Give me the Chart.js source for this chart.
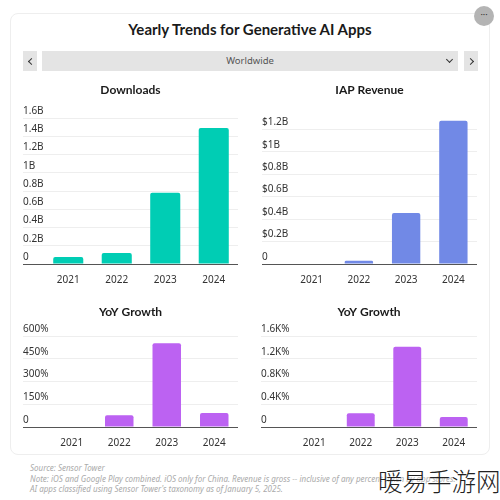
<!DOCTYPE html>
<html>
<head>
<meta charset="utf-8">
<script src="https://cdn.jsdelivr.net/npm/chart.js@4"></script>
<style>
  html, body { margin: 0; padding: 0; background: #fff; }
  body { width: 500px; height: 500px; position: relative; overflow: hidden; font-family: "Noto Sans", sans-serif; }
  .card { position: absolute; left: 10px; top: 13px; width: 478px; height: 440px; border: 1px solid #eeeeee; border-radius: 8px; }
  .title { position: absolute; left: 0; width: 500px; top: 20px; text-align: center; font-family: Lato, sans-serif; font-size: 15px; line-height: 18px; font-weight: 700; color: #1a1a1a; }
  .bar { position: absolute; top: 51px; height: 20px; background: #e4e4e4; }
  .region { font-size: 9.5px; line-height: 20px; text-align: center; color: #555; }
  .chev { position: absolute; width: 4px; height: 4px; border-right: 1px solid #333; border-bottom: 1px solid #333; }
  .menu { position: absolute; left: 474px; top: 6px; width: 20px; height: 20px; border-radius: 50%; background: #b4b4b4; color: #333; font-size: 9px; line-height: 17px; text-align: center; }
  canvas { position: absolute; }
  .foot { position: absolute; left: 30px; top: 463px; font-size: 8px; line-height: 10.5px; font-style: italic; color: #aaaaaa; white-space: nowrap; }
  .mark { position: absolute; left: 378px; top: 463px; font-family: "Noto Sans CJK SC"; font-weight: 300; font-size: 24.5px; line-height: 36px; color: #222; text-shadow: 0 0 3px #fff; white-space: nowrap; }
</style>
</head>
<body>
<div class="card"></div>
<div class="title">Yearly Trends for Generative AI Apps</div>
<div class="bar" style="left:23px;width:14px"><span class="chev" style="left:6px;top:8px;transform:rotate(135deg)"></span></div>
<div class="bar region" style="left:42px;width:416px">Worldwide<span class="chev" style="left:405px;top:6px;transform:rotate(45deg)"></span></div>
<div class="bar" style="left:464px;width:14px"><span class="chev" style="left:4px;top:8px;transform:rotate(-45deg)"></span></div>
<div class="menu">···</div>
<canvas id="downloads" style="left:23px;top:83px" width="215" height="201"></canvas>
<canvas id="revenue" style="left:262px;top:83px" width="215" height="201"></canvas>
<canvas id="downloadsGrowth" style="left:23px;top:305px" width="215" height="142"></canvas>
<canvas id="revenueGrowth" style="left:261px;top:305px" width="216" height="142"></canvas>
<div class="foot">Source: Sensor Tower<br>Note: iOS and Google Play combined. iOS only for China. Revenue is gross -- inclusive of any percent taken by app stores.<br>AI apps classified using Sensor Tower's taxonomy as of January 5, 2025.</div>
<div class="mark">暖易手游网</div>
<script>
const years = ["2021", "2022", "2023", "2024"];

const downloads = [0.077, 0.12, 0.78, 1.49];
const revenue = [0.005, 0.03, 0.455, 1.275];
const downloadsGrowth = [0, 77, 552, 92];
const revenueGrowth = [0, 0.24, 1.41, 0.176];

const downloadsTicks = ["0", "0.2B", "0.4B", "0.6B", "0.8B", "1B", "1.2B", "1.4B", "1.6B"];
const revenueTicks = ["0", "$0.2B", "$0.4B", "$0.6B", "$0.8B", "$1B", "$1.2B"];
const downloadsGrowthTicks = ["0", "150%", "300%", "450%", "600%"];
const revenueGrowthTicks = ["0", "0.4K%", "0.8K%", "1.2K%", "1.6K%"];

const GREEN = "#00cdb4";
const BLUE = "#7189e6";
const PURPLE = "#bc62f2";
const FONT = "'Noto Sans', sans-serif";

function buildBars(targetId, title, values, color, tickLabels, yMax, yStep, yWidth, barPct, titleGap) {
  const ctx = document.getElementById(targetId);
  return new Chart(ctx, {
    type: "bar",
    data: {
      labels: years,
      datasets: [{ data: values, backgroundColor: color, borderRadius: 2, barPercentage: barPct, categoryPercentage: 1 }]
    },
    options: {
      responsive: false,
      animation: false,
      layout: { padding: 0 },
      plugins: {
        legend: { display: false },
        tooltip: { enabled: false },
        title: {
          display: true,
          text: title,
          color: "#1a1a1a",
          font: { family: "Lato, sans-serif", size: 12, weight: "700", lineHeight: 1.2 },
          padding: { top: 0, bottom: titleGap }
        }
      },
      scales: {
        x: {
          border: { display: false },
          grid: { display: false },
          ticks: { color: "#333", font: { family: FONT, size: 10 }, padding: 2, maxRotation: 0 },
          afterFit: scale => { scale.height = 20; }
        },
        y: {
          min: 0,
          max: yMax,
          border: { display: false },
          grid: {
            color: c => c.tick.value === 0 ? "#555" : "#eeeeee",
            tickLength: yWidth
          },
          ticks: {
            stepSize: yStep,
            includeBounds: false,
            mirror: true,
            padding: -yWidth,
            labelOffset: -7,
            color: "#333",
            font: { family: FONT, size: 10 },
            autoSkip: false,
            callback: (v, i) => tickLabels[i]
          },
          afterFit: scale => { scale.width = yWidth; }
        }
      }
    }
  });
}

buildBars("downloads", "Downloads", downloads, GREEN, downloadsTicks, 1.6, 0.2, 21, 0.62, 20.6);
buildBars("revenue", "IAP Revenue", revenue, BLUE, revenueTicks, 1.3, 0.2, 26, 0.6, 20.6);
buildBars("downloadsGrowth", "YoY Growth", downloadsGrowth, PURPLE, downloadsGrowthTicks, 600, 150, 25, 0.6, 16.6);
buildBars("revenueGrowth", "YoY Growth", revenueGrowth, PURPLE, revenueGrowthTicks, 1.6, 0.4, 30, 0.6, 16.6);
</script>
</body>
</html>
